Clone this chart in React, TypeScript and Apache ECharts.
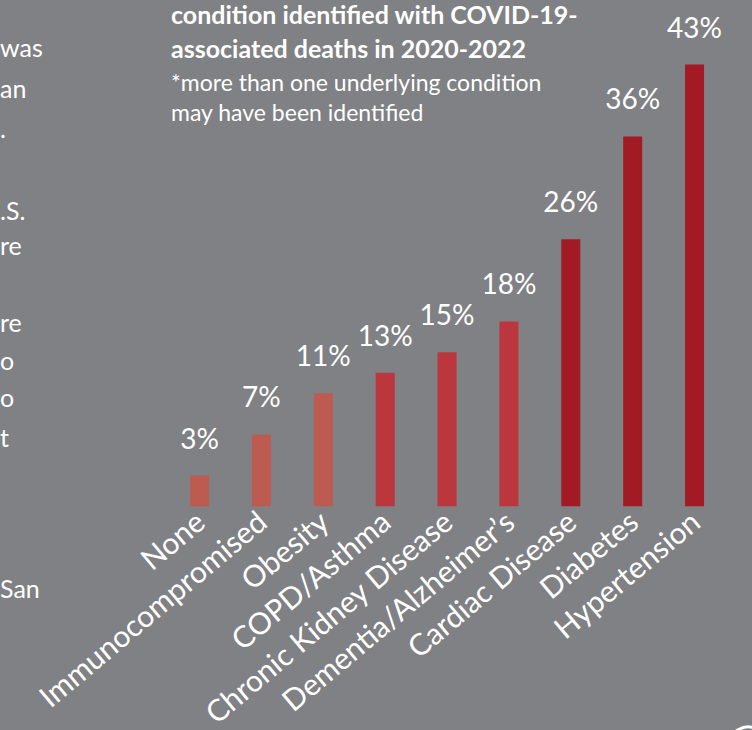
import React, { useEffect, useRef } from "react";
import * as echarts from "echarts";

const categories = [
  "None",
  "Immunocompromised",
  "Obesity",
  "COPD/Asthma",
  "Chronic Kidney Disease",
  "Dementia/Alzheimer’s",
  "Cardiac Disease",
  "Diabetes",
  "Hypertension",
];
const values = [3, 7, 11, 13, 15, 18, 26, 36, 43];
const barColors = [
  "#BE5B50", "#BE5B50", "#BE5B50",
  "#BC363D", "#BC363D", "#BC363D",
  "#A21B24", "#A21B24", "#A21B24",
];
const titleLines = ["condition identified with COVID-19-", "associated deaths in 2020-2022"];
const noteLines = ["*more than one underlying condition", "may have been identified"];
const sideFragments = [
  { t: "was", x: 0, y: 47 },
  { t: "an", x: 0, y: 88 },
  { t: ".", x: 0, y: 128 },
  { t: ".S.", x: 0, y: 210 },
  { t: "re", x: 0, y: 245 },
  { t: "re", x: 0, y: 322 },
  { t: "o", x: 0, y: 360 },
  { t: "o", x: 0, y: 397 },
  { t: "t", x: 0, y: 437 },
  { t: "San", x: 0, y: 588 },
];

const FONT = "Lato, 'Open Sans', sans-serif";

export default function App() {
  const ref = useRef<HTMLDivElement>(null);
  useEffect(() => {
    if (!ref.current) return;
    const chart = echarts.init(ref.current, undefined, { renderer: "svg" });
    const graphics: any[] = [
      {
        type: "text",
        left: 171,
        top: -3,
        style: {
          text: titleLines.join("\n"),
          fill: "#ffffff",
          font: `bold 25px ${FONT}`,
          lineHeight: 34,
        },
      },
      {
        type: "text",
        left: 171,
        top: 67,
        style: {
          text: noteLines.join("\n"),
          fill: "#ffffff",
          font: `normal 23px ${FONT}`,
          lineHeight: 30,
        },
      },
      ...sideFragments.map((f) => ({
        type: "text",
        x: f.x,
        y: f.y,
        style: {
          text: f.t,
          fill: "#ffffff",
          font: `normal 25px ${FONT}`,
          verticalAlign: "middle",
          align: "left",
        },
      })),
      {
        type: "circle",
        shape: { cx: 748, cy: 746, r: 19 },
        style: { fill: "none", stroke: "#ffffff", lineWidth: 3 },
      },
    ];
    chart.setOption({
      animation: false,
      backgroundColor: "#808184",
      grid: { left: 168.6, width: 556.9, top: 44, bottom: 218 },
      xAxis: {
        type: "category",
        data: categories,
        axisLine: { show: false },
        axisTick: { show: false },
        axisLabel: {
          interval: 0,
          rotate: 40,
          margin: 10,
          color: "#ffffff",
          fontFamily: FONT,
          fontWeight: "normal",
          fontSize: 30,
        },
      },
      yAxis: {
        type: "value",
        min: 0,
        max: 45,
        show: false,
        splitLine: { show: false },
      },
      series: [
        {
          type: "bar",
          barWidth: 19,
          data: values.map((v, i) => ({ value: v, itemStyle: { color: barColors[i] } })),
          label: {
            show: true,
            position: "top",
            distance: 24,
            formatter: "{c}%",
            color: "#ffffff",
            fontFamily: FONT,
            fontWeight: "normal",
            fontSize: 28,
          },
        },
      ],
      graphic: graphics,
    });
    return () => chart.dispose();
  }, []);
  return (
    <div
      ref={ref}
      style={{ position: "absolute", left: 0, top: 0, width: 752, height: 730 }}
    />
  );
}
